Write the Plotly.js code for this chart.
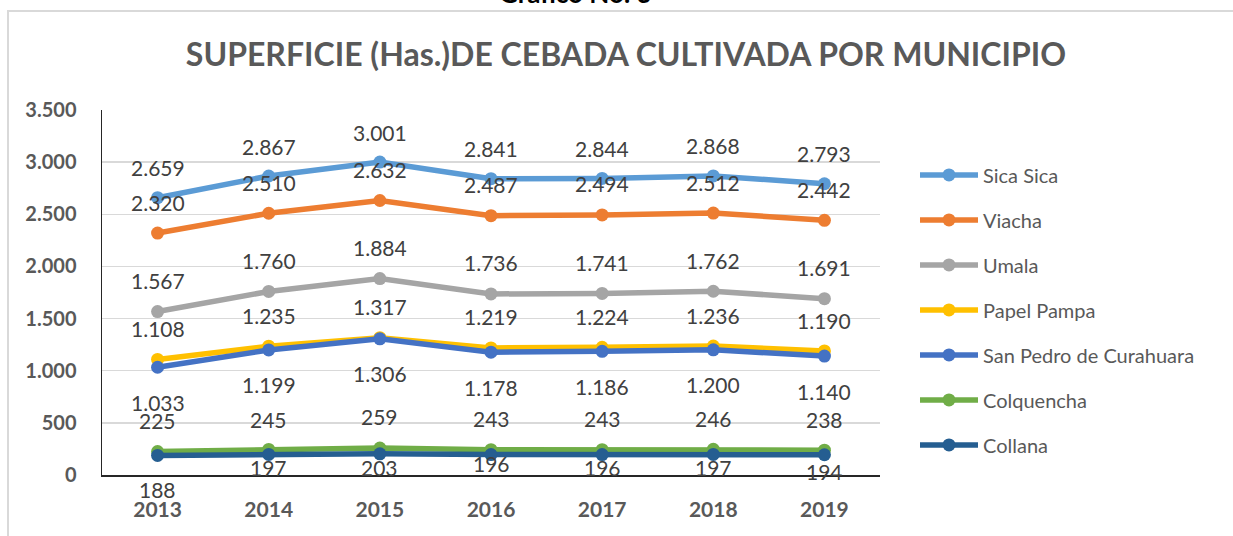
<!DOCTYPE html>
<html>
<head>
<meta charset="utf-8">
<script src="https://cdn.plot.ly/plotly-3.0.1.min.js"></script>
<style>
html,body{margin:0;padding:0;background:#fff;overflow:hidden;width:1233px;height:536px;}
#frame{position:absolute;left:7px;top:10px;width:1300px;height:600px;border:2px solid #D9D9D9;box-sizing:border-box;}
#chart{position:absolute;left:0;top:0;width:1233px;height:536px;}
</style>
</head>
<body>
<div id="frame"></div>
<div id="chart"></div>
<script>
const years = ['2013','2014','2015','2016','2017','2018','2019'];
const sicaSica = [2659, 2867, 3001, 2841, 2844, 2868, 2793];
const viacha = [2320, 2510, 2632, 2487, 2494, 2512, 2442];
const umala = [1567, 1760, 1884, 1736, 1741, 1762, 1691];
const papelPampa = [1108, 1235, 1317, 1219, 1224, 1236, 1190];
const sanPedro = [1033, 1199, 1306, 1178, 1186, 1200, 1140];
const colquencha = [225, 245, 259, 243, 243, 246, 238];
const collana = [188, 197, 203, 196, 196, 197, 194];

const FONT = 'Lato, "Open Sans", sans-serif';

const series = [
  {name:'Sica Sica', y:sicaSica, color:'#5B9BD5', shift:[30,30,30,30,30,30,30]},
  {name:'Viacha', y:viacha, color:'#ED7D31', shift:[31,31,31,31,31,31,31]},
  {name:'Umala', y:umala, color:'#A5A5A5', shift:[31,31,31,31,31,31,31]},
  {name:'Papel Pampa', y:papelPampa, color:'#FFC000', shift:[31,31,31,31,31,31,30]},
  {name:'San Pedro de Curahuara', y:sanPedro, color:'#4472C4', shift:[-35,-35,-35,-35,-35,-35,-35]},
  {name:'Colquencha', y:colquencha, color:'#70AD47', shift:[31,30,31,31,31,31,31]},
  {name:'Collana', y:collana, color:'#255E91', shift:[-34,-13,-14,-9,-13,-13,-17]}
];

function fmt(v){
  if (v >= 1000) return Math.floor(v/1000) + '.' + String(v % 1000).padStart(3,'0');
  return String(v);
}

const traces = series.map((s,i) => ({
  type:'scatter', mode:'lines+markers', name:s.name, x:years, y:s.y,
  line:{color:s.color, width:5.5}, marker:{color:s.color, size:13},
  legendgroup:'g'+i, cliponaxis:false, hoverinfo:'skip'
}));

const annotations = [];
series.forEach(s => {
  s.y.forEach((v,j) => {
    annotations.push({x:j, y:v, xref:'x', yref:'y', text:fmt(v), showarrow:false,
      yshift:s.shift[j], font:{family:FONT, size:21, color:'#404040'}});
  });
});
annotations.push({xref:'paper', yref:'paper', x:(575-102)/778, y:(475-10)/365.5, yanchor:'bottom', xanchor:'center',
  text:'<b>Gráfico No. 3</b>', showarrow:false, font:{family:FONT, size:26, color:'#000'}});

const layout = {
  width:1233, height:536,
  margin:{l:102, r:353, t:109.5, b:61},
  paper_bgcolor:'rgba(0,0,0,0)', plot_bgcolor:'rgba(0,0,0,0)',
  separators:',.',
  title:{text:'<b>SUPERFICIE (Has.)DE CEBADA CULTIVADA POR MUNICIPIO</b>', x:626/1233, xanchor:'center', y:1-55/536, yanchor:'middle',
    font:{family:FONT, size:32, color:'#595959'}},
  xaxis:{type:'category', range:[-0.5,6.5], showgrid:false, showline:true, linecolor:'#262626', linewidth:1.5,
    ticks:'', tickfont:{family:FONT, size:21, color:'#595959', weight:'bold'}, ticklabelstandoff:15, zeroline:false},
  yaxis:{range:[0,3500], dtick:500, tickformat:',d', showgrid:true, gridcolor:'#D9D9D9', gridwidth:1.5,
    showline:true, linecolor:'#262626', linewidth:1.5, ticks:'', zeroline:false,
    tickfont:{family:FONT, size:20, color:'#595959', weight:'bold'}, ticklabelstandoff:20},
  showlegend:true,
  legend:{x:(915-102)/778, xanchor:'left', y:(475-155)/365.5, yanchor:'top', tracegroupgap:16, itemwidth:58,
    font:{family:FONT, size:20, color:'#595959'}, bgcolor:'rgba(0,0,0,0)'},
  annotations:annotations
};

Plotly.newPlot('chart', traces, layout, {displayModeBar:false, staticPlot:true});
</script>
</body>
</html>
